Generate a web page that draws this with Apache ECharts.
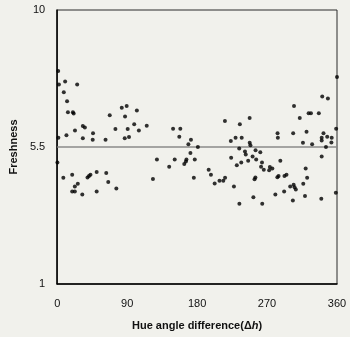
<!DOCTYPE html>
<html><head><meta charset="utf-8">
<script src="https://cdn.jsdelivr.net/npm/echarts@6/dist/echarts.min.js"></script>
<style>html,body{margin:0;padding:0;background:#f1f1ec}#c{width:350px;height:337px}</style>
</head><body><div id="c"></div>
<script>
const hueDiff = [1.3,2.2,10.2,25.7,8.5,12.7,13.8,20.2,21.2,67.6,83.1,89.4,87.3,102.5,99.1,115.2,33.0,35.6,22.9,74.9,90.7,105.1,11.9,46.1,1.5,33.0,45.7,62.2,86.9,92.4,0.3,7.9,19.3,39.0,40.9,42.8,50.8,63.1,26.5,22.7,19.3,22.7,32.3,50.8,65.7,76.1,123.2,128.3,144.1,151.2,149.1,158.4,157.1,172.1,168.8,181.0,171.4,166.3,165.6,163.5,177.0,175.8,194.9,197.8,202.6,208.8,213.7,216.0,227.4,234.4,215.8,235.0,247.6,223.4,229.5,237.4,234.2,247.7,248.6,241.6,242.6,223.8,236.8,231.1,255.2,261.3,251.4,256.0,245.7,263.5,262.3,265.8,273.6,276.8,272.7,287.1,255.0,253.9,252.4,263.8,283.3,284.8,292.4,295.0,280.7,292.0,299.8,304.2,305.4,307.0,303.2,316.6,319.7,321.6,318.8,340.3,339.8,358.5,283.5,283.9,304.7,312.1,323.5,326.5,336.6,341.0,348.3,360,358.9,303.6,320.8,316.2,328.0,342.6,340.3,340.3,347.4,353.2,352.8,345.8];
const freshness = [8.00,7.55,7.65,7.55,7.30,7.00,6.64,6.64,6.60,6.54,6.79,6.85,6.50,6.70,6.25,6.20,6.19,6.14,6.04,6.09,6.09,6.04,5.89,5.95,5.80,5.79,5.74,5.74,5.79,5.83,4.99,4.49,4.59,4.50,4.55,4.59,4.68,4.65,4.29,4.20,4.04,4.04,3.94,4.04,4.35,4.14,4.45,5.09,4.85,5.09,6.10,6.10,5.84,5.74,5.59,5.50,5.30,5.09,5.02,4.94,5.09,4.49,4.75,4.59,4.30,4.39,4.39,4.49,4.20,3.64,6.35,6.25,6.45,5.70,5.80,5.80,5.45,5.64,5.56,5.35,5.25,5.15,4.99,4.90,5.39,5.33,5.19,5.09,5.05,4.99,4.85,4.75,4.84,4.79,4.74,5.05,4.50,4.44,3.85,3.64,4.51,4.55,4.55,4.59,3.94,4.04,4.20,4.26,4.18,4.10,3.74,4.29,4.79,4.49,3.89,5.19,3.80,4.00,5.95,5.80,6.85,6.45,6.61,6.61,6.61,7.16,7.09,7.80,6.10,5.95,6.00,5.64,5.59,5.95,5.80,5.71,5.84,5.80,5.65,5.50];
const xTicks = [0, 90, 180, 270, 360];
const yTicks = [1, 5.5, 10];
const refLine = 5.5;
const xTitle = 'Hue angle difference(Δ';
const xTitleItalic = 'h';
const yTitle = 'Freshness';

const pts = hueDiff.map((x, i) => [x, freshness[i]]);
const chart = echarts.init(document.getElementById('c'), null, {renderer: 'canvas'});
chart.setOption({
  backgroundColor: '#f1f1ec',
  animation: false,
  grid: {left: 53, right: 13, top: 10, bottom: 53, show: true, borderColor: '#2a2a2a', borderWidth: 1, backgroundColor: 'transparent'},
  xAxis: {
    type: 'value', min: 0, max: 360, interval: 90,
    axisLine: {show: true, onZero: false, lineStyle: {color: '#000', width: 1.5}},
    axisTick: {show: false},
    splitLine: {show: false},
    axisLabel: {color: '#111', fontFamily: 'Liberation Sans', fontSize: 11, margin: 14},
    name: '{n|' + xTitle + '}{i|' + xTitleItalic + '}{n|)}',
    nameLocation: 'middle', nameGap: 36,
    nameTextStyle: {
      rich: {
        n: {fontFamily: 'Liberation Sans', fontWeight: 'bold', fontSize: 11, color: '#111'},
        i: {fontFamily: 'Liberation Sans', fontWeight: 'bold', fontStyle: 'italic', fontSize: 11, color: '#111'}
      }
    }
  },
  yAxis: {
    type: 'value', min: 1, max: 10,
    axisLine: {show: true, onZero: false, lineStyle: {color: '#000', width: 1.5}},
    axisTick: {show: false},
    splitLine: {show: false},
    axisLabel: {customValues: yTicks, color: '#111', fontFamily: 'Liberation Sans', fontSize: 11, margin: 12},
    name: yTitle, nameLocation: 'middle', nameGap: 35, nameRotate: 90,
    nameTextStyle: {fontFamily: 'Liberation Sans', fontWeight: 'bold', fontSize: 11, color: '#111'}
  },
  series: [{
    type: 'scatter',
    data: pts,
    symbolSize: 4,
    itemStyle: {color: '#000'},
    markLine: {
      silent: true, symbol: 'none', label: {show: false},
      lineStyle: {color: '#8a8a8a', width: 1.5, type: 'solid'},
      data: [{yAxis: refLine}],
      z: 1
    },
    z: 3
  }]
});
</script></body></html>
